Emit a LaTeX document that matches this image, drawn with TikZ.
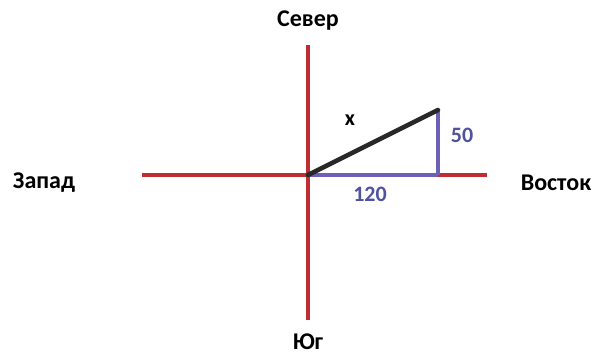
\documentclass[tikz,border=0pt]{standalone}
\usepackage{fontspec}
\setmainfont{Carlito}
\definecolor{axisred}{RGB}{192,44,52}
\definecolor{triblue}{RGB}{110,96,180}
\definecolor{lblblue}{RGB}{80,82,160}
\definecolor{hypblack}{RGB}{40,40,40}
\begin{document}
\begin{tikzpicture}[x=1pt,y=-1pt,
  axis/.style={draw=axisred,line width=3.5pt},
  leg/.style={draw=triblue,line width=3.5pt},
  hyp/.style={draw=hypblack,line width=4.5pt,line cap=round},
  dirlbl/.style={font=\bfseries\fontsize{24}{28}\selectfont,text=black,inner sep=0pt},
  smlbl/.style={font=\bfseries\fontsize{22}{26}\selectfont,text=black,inner sep=0pt},
  numlbl/.style={font=\bfseries\fontsize{22}{26}\selectfont,text=lblblue,inner sep=0pt}]
\useasboundingbox[fill=white] (0,0) rectangle (598,355);
\coordinate (N) at (308,45);
\coordinate (S) at (308,320);
\coordinate (W) at (142,175);
\coordinate (E) at (487,175);
\coordinate (O) at (308,175);
\coordinate (A) at (438,175);
\coordinate (B) at (438,110);
\draw[axis] (N) -- (S);
\draw[axis] (W) -- (E);
\draw[leg] (O) -- (A);
\draw[leg] (A) -- (B);
\draw[hyp] (O) -- (B);
\node[dirlbl] (north) at (308,21) {Север};
\node[dirlbl] (south) at (308,342) {Юг};
\node[dirlbl] (west) at (44,183) {Запад};
\node[dirlbl] (east) at (556,183) {Восток};
\node[smlbl] (xl) at (350,120) {x};
\node[numlbl] (fifty) at (462,135) {50};
\node[numlbl] (oneTwenty) at (370,194) {120};
\end{tikzpicture}
\end{document}
